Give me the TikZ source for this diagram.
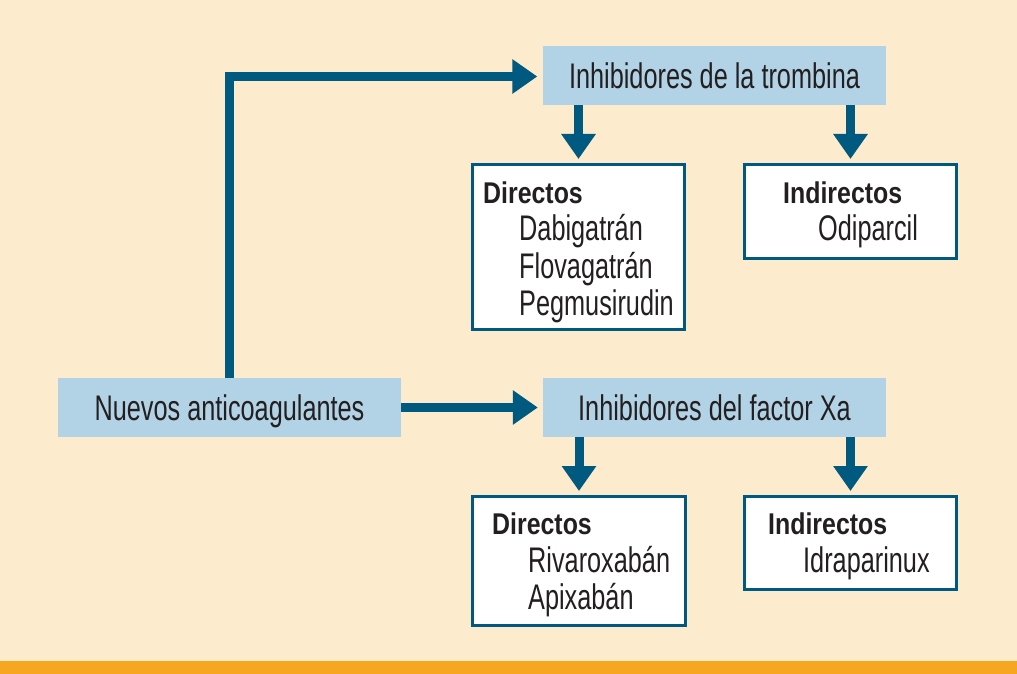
\documentclass[tikz,border=0pt]{standalone}
\usepackage{fontspec}
\usetikzlibrary{arrows.meta,calc}
\newfontfamily\itemfont[FakeStretch=0.71]{Liberation Sans}
\newfontfamily\headfont[FakeStretch=0.83]{Liberation Sans}
\definecolor{bgcream}{HTML}{FDEBCD}
\definecolor{barorange}{HTML}{F7A621}
\definecolor{teal}{HTML}{00597F}
\definecolor{lightblue}{HTML}{B2D3E5}
\definecolor{ink}{HTML}{231F20}
\tikzset{
  x=1pt, y=-1pt,
  lbox/.style={fill=lightblue, draw=none, inner sep=0pt, minimum width=343pt, minimum height=59pt,
    font=\itemfont\fontsize{35.6}{40}\selectfont, text=ink, text height=25.5pt, text depth=0pt},
  wbox/.style={fill=white, draw=teal, line width=3pt, inner sep=0pt},
  headtxt/.style={anchor=base west, inner sep=0pt, text=ink, font=\headfont\bfseries\fontsize{30}{34}\selectfont},
  itemtxt/.style={anchor=base west, inner sep=0pt, text=ink, font=\itemfont\fontsize{35.6}{40}\selectfont},
  conn/.style={draw=teal, line width=9pt, line join=miter,
    -{Triangle[length=25pt, width=33pt]}}
}
\begin{document}
\begin{tikzpicture}
\useasboundingbox (0,0) rectangle (1017,674);
\fill[bgcream] (0,0) rectangle (1017,674);
\fill[barorange] (0,661) rectangle (1017,674);

% main boxes
\node[lbox] (nuevos) at (229.5,407.5) {Nuevos anticoagulantes};
\node[lbox] (trom) at (714.5,75.5) {Inhibidores de la trombina};
\node[lbox] (xa) at (714.5,407.5) {Inhibidores del factor Xa};

% white boxes
\node[wbox, minimum width=212pt, minimum height=165pt] (dir1) at (578.5,247) {};
\node[wbox, minimum width=212pt, minimum height=94pt] (ind1) at (850.5,211.5) {};
\node[wbox, minimum width=213pt, minimum height=129pt] (dir2) at (579,561) {};
\node[wbox, minimum width=212pt, minimum height=93pt] (ind2) at (850.5,543) {};

% texts in white boxes
\node[headtxt] (dir1h) at (483,203) {Directos};
\node[itemtxt] (dir1a) at (519,240) {Dabigatrán};
\node[itemtxt] (dir1b) at (519,278) {Flovagatrán};
\node[itemtxt] (dir1c) at (519,315) {Pegmusirudin};
\node[headtxt] (ind1h) at (783,203) {Indirectos};
\node[itemtxt] (ind1a) at (818,240) {Odiparcil};
\node[headtxt] (dir2h) at (492,534) {Directos};
\node[itemtxt] (dir2a) at (528,572) {Rivaroxabán};
\node[itemtxt] (dir2b) at (528,609) {Apixabán};
\node[headtxt] (ind2h) at (768,534) {Indirectos};
\node[itemtxt] (ind2a) at (803,572) {Idraparinux};

% connectors
\coordinate (corner) at (nuevos.north |- 0,76.5);
\draw[conn, shorten >=5.5pt] (nuevos.north) -- (corner) -- (trom.west |- corner);
\draw[conn, shorten >=5pt] (nuevos.east) -- (xa.west);
\draw[conn, shorten >=4pt] (trom.south -| dir1.north) -- (dir1.north);
\draw[conn, shorten >=4pt] (trom.south -| ind1.north) -- (ind1.north);
\draw[conn, shorten >=4pt] (xa.south -| dir2.north) -- (dir2.north);
\draw[conn, shorten >=4pt] (xa.south -| ind2.north) -- (ind2.north);
\end{tikzpicture}
\end{document}
